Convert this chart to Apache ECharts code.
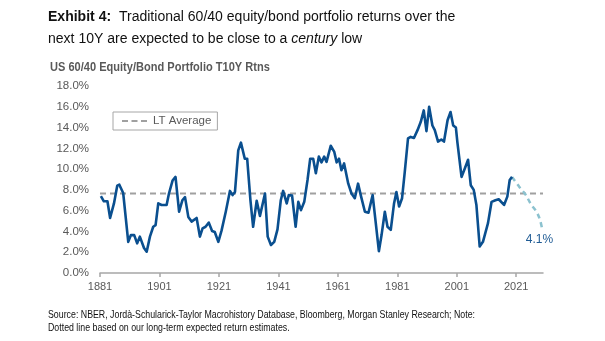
<!DOCTYPE html>
<html>
<head>
<meta charset="utf-8">
<script src="https://cdn.jsdelivr.net/npm/echarts@6/dist/echarts.min.js"></script>
<style>html,body{margin:0;padding:0;background:#fff;}#c{width:605px;height:341px;}</style>
</head>
<body>
<div id="c"></div>
<script>
// Data
const years = [1881.3,1882.3,1883.5,1884.4,1885.7,1886.8,1887.5,1888.8,1890.5,1891.4,1892.5,1893.5,1894.4,1895.8,1896.7,1897.8,1898.9,1899.7,1900.6,1901.7,1903.4,1904.2,1905.4,1906.4,1907.6,1908.7,1909.6,1910.7,1911.8,1913.5,1914.6,1915.5,1916.5,1917.6,1918.7,1919.6,1920.8,1921.9,1923.3,1924.7,1925.6,1926.4,1927.5,1928.4,1929.7,1930.5,1931.6,1932.5,1933.7,1934.8,1936.5,1937.4,1938.5,1939.6,1940.7,1941.8,1942.6,1943.8,1944.5,1945.6,1946.8,1947.7,1948.6,1949.7,1950.8,1951.7,1952.7,1953.6,1954.6,1955.5,1956.4,1957.2,1958.6,1959.8,1960.6,1961.4,1962.2,1963.1,1964.5,1965.6,1966.7,1967.8,1968.7,1970.1,1971.3,1972.7,1973.7,1974.8,1975.7,1976.8,1977.7,1978.8,1979.9,1980.7,1981.6,1982.6,1983.5,1984.6,1985.5,1986.6,1987.8,1988.9,1989.9,1990.8,1991.7,1992.8,1993.6,1994.7,1995.8,1996.7,1997.9,1998.9,1999.8,2000.7,2001.2,2002.6,2003.7,2004.8,2005.7,2006.7,2007.6,2008.7,2009.8,2011.5,2012.7,2014.0,2015.1,2016.9,2018.0,2018.8,2019.6];
const returns = [7.4,6.9,6.9,5.3,6.7,8.4,8.5,7.7,3.0,3.65,3.65,2.85,3.5,2.4,2.05,3.5,4.45,4.6,6.7,6.55,6.55,7.65,8.9,9.25,5.9,7.0,7.3,5.4,4.95,5.3,3.5,4.3,4.45,4.85,4.05,3.95,3.0,4.1,5.9,7.9,7.5,7.8,11.8,12.55,11.0,11.0,7.0,4.45,6.95,5.5,7.65,3.5,2.7,3.0,4.2,7.0,7.9,6.7,7.5,7.45,4.45,6.85,6.05,6.85,8.95,11.0,11.0,9.6,11.2,10.65,11.2,10.7,12.25,11.65,10.65,11.0,9.9,10.55,8.6,7.65,7.2,8.6,7.5,5.9,5.8,7.5,4.95,2.1,3.65,5.9,4.45,4.15,6.7,7.8,6.4,7.2,9.7,12.95,13.1,13.0,13.75,14.55,15.65,13.65,16.0,14.2,13.75,12.65,12.85,12.65,14.7,15.5,14.2,14.0,12.6,9.25,10.05,10.9,8.45,8.0,6.55,2.55,3.0,4.8,6.85,7.0,7.1,6.55,7.35,8.95,9.25];
const forecastYears = [2019.6,2022.0,2024.0,2026.0,2027.8,2029.0,2029.8];
const forecastReturns = [9.25,8.3,7.6,6.6,5.9,5.1,4.1];
const ltAverage = 7.65;
const xTicks = [1881,1901,1921,1941,1961,1981,2001,2021];
const yMin = 0, yMax = 18, yStep = 2;
const xMin = 1881, xMax = 2030;

const titleText = '{b|Exhibit 4:}  Traditional 60/40 equity/bond portfolio returns over the\nnext 10Y are expected to be close to a {i|century} low';
const subtitleText = 'US 60/40 Equity/Bond Portfolio T10Y Rtns';
const sourceText = 'Source: NBER, Jordà-Schularick-Taylor Macrohistory Database, Bloomberg, Morgan Stanley Research; Note:\nDotted line based on our long-term expected return estimates.';

const zip = (a,b) => a.map((v,i)=>[v,b[i]]);
const SANS = '"Liberation Sans", Arial, sans-serif';

const chart = echarts.init(document.getElementById('c'), null, {renderer:'canvas'});
chart.setOption({
  animation:false,
  backgroundColor:'#fff',
  graphic:[
    {
      type:'text', x:48, y:6, scaleX:0.905, scaleY:1,
      style:{
        text:titleText, fill:'#111', fontFamily:SANS, fontSize:15.5, fontWeight:'normal',
        lineHeight:21.6, textVerticalAlign:'top', textAlign:'left',
        rich:{
          b:{fontFamily:SANS, fontSize:15.5, fontWeight:'bold', fill:'#111', lineHeight:21.6},
          i:{fontFamily:SANS, fontSize:15.5, fontStyle:'italic', fill:'#111', lineHeight:21.6}
        }
      }
    },
    {
      type:'text', x:50, y:59, scaleX:0.85,
      style:{text:subtitleText, fill:'#595959', fontFamily:SANS, fontSize:13, fontWeight:'bold', lineHeight:16, textVerticalAlign:'top'}
    },
    {
      type:'text', x:48, y:308.6, scaleX:0.80,
      style:{text:sourceText, fill:'#111', fontFamily:SANS, fontSize:11, lineHeight:12.7, textVerticalAlign:'top'}
    }
  ],
  legend:{
    data:[{name:'LT Average', icon:'path://M0,0H6V2H0Z M9.5,0H15.5V2H9.5Z M19,0H25V2H19Z'}],
    left:113, top:112, padding:[3,6,3,9],
    borderColor:'#a6a6a6', borderWidth:1,
    itemWidth:25, itemHeight:2, itemGap:10,
    textStyle:{fontFamily:SANS, fontSize:11.5, color:'#595959', padding:[0,0,0,1]}
  },
  grid:{left:100, right:62, top:86, bottom:68, containLabel:false},
  xAxis:{
    type:'value', min:xMin, max:xMax,
    axisLine:{show:true, lineStyle:{color:'#a6a6a6', width:1.5}},
    axisTick:{show:true, customValues:xTicks, length:4, lineStyle:{color:'#a6a6a6', width:1.5}},
    axisLabel:{customValues:xTicks, margin:8, fontFamily:SANS, fontSize:11, color:'#595959', formatter:v=>String(v)},
    splitLine:{show:false}
  },
  yAxis:{
    type:'value', min:yMin, max:yMax, interval:yStep,
    axisLine:{show:false}, axisTick:{show:false}, splitLine:{show:false},
    axisLabel:{margin:11, fontFamily:SANS, fontSize:11.5, color:'#595959', formatter:v=>v.toFixed(1)+'%'}
  },
  series:[
    {
      name:'LT Average', type:'line', showSymbol:false, symbol:'none', z:1,
      data:[[xMin, ltAverage],[xMax, ltAverage]],
      lineStyle:{color:'#a0a0a0', width:2, type:[6,4]},
      itemStyle:{color:'#a0a0a0'}
    },
    {
      name:'Forecast', type:'line', showSymbol:false, symbol:'none', smooth:0.35, z:2,
      data:zip(forecastYears, forecastReturns),
      lineStyle:{color:'#8cc2cf', width:2.5, type:[5,4]},
      itemStyle:{color:'#8cc2cf'},
      endLabel:{
        show:true, distance:0, offset:[-3,9], align:'center', verticalAlign:'middle',
        formatter:p=>p.value[1].toFixed(1)+'%',
        fontFamily:SANS, fontSize:12, color:'#1f5b94'
      }
    },
    {
      name:'US 60/40', type:'line', showSymbol:false, symbol:'none', z:3,
      data:zip(years, returns),
      lineStyle:{color:'#0a4f8f', width:2.6, join:'round'}
    }
  ]
});
</script>
</body>
</html>
